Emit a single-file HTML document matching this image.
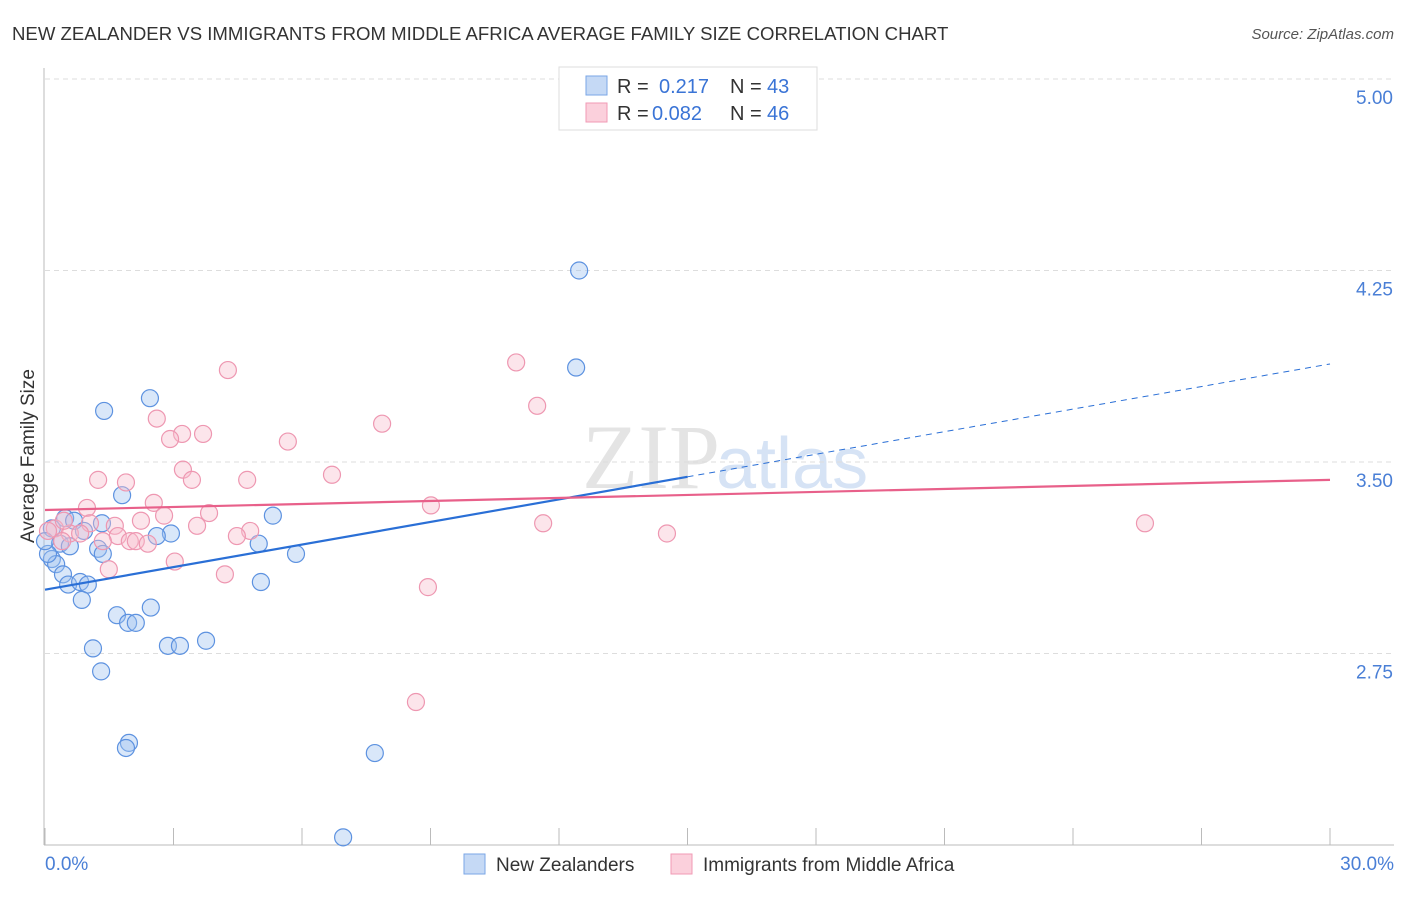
<!DOCTYPE html>
<html><head><meta charset="utf-8"><style>
body{margin:0;background:#fff;font-family:"Liberation Sans",sans-serif}
</style></head><body>
<svg id="c" width="1406" height="892" xmlns="http://www.w3.org/2000/svg">
<text x="12" y="40" font-size="18.6" fill="#333">NEW ZEALANDER VS IMMIGRANTS FROM MIDDLE AFRICA AVERAGE FAMILY SIZE CORRELATION CHART</text>
<text x="1394" y="39" font-size="15" fill="#555" font-style="italic" text-anchor="end">Source: ZipAtlas.com</text>
<text x="720" y="488" font-size="92" fill="#e4e4e4" text-anchor="end" font-family="Liberation Serif">ZIP</text>
<text x="716" y="488" font-size="72" fill="#d6e3f5">atlas</text>
<g id="grid"></g><g id="axes"></g><g id="pts"></g><g id="lines"></g>
<text x="34" y="456" font-size="19" fill="#333" text-anchor="middle" transform="rotate(-90 34 456)">Average Family Size</text>
<text x="45" y="870" font-size="19" fill="#4a7fd6">0.0%</text>
<text x="1394" y="870" font-size="19" fill="#4a7fd6" text-anchor="end">30.0%</text>
<g>
<rect x="559" y="67" width="258" height="63" fill="#fff" stroke="#ddd"/>
<rect x="586" y="76" width="21" height="19" fill="#c5d9f5" stroke="#7aa6e6"/>
<rect x="586" y="103" width="21" height="19" fill="#fbd0dc" stroke="#f09ab5"/>
<text x="617" y="93" font-size="20" fill="#333">R = <tspan x="659" fill="#3a74d6">0.217</tspan><tspan x="730">N = </tspan><tspan x="767" fill="#3a74d6">43</tspan></text>
<text x="617" y="120" font-size="20" fill="#333">R = <tspan x="652" fill="#3a74d6">0.082</tspan><tspan x="730">N = </tspan><tspan x="767" fill="#3a74d6">46</tspan></text>
</g>
<g>
<rect x="464" y="854" width="21" height="20" fill="#c5d9f5" stroke="#7aa6e6"/>
<text x="496" y="871" font-size="19" fill="#333">New Zealanders</text>
<rect x="671" y="854" width="21" height="20" fill="#fbd0dc" stroke="#f09ab5"/>
<text x="703" y="871" font-size="19" fill="#333">Immigrants from Middle Africa</text>
</g>
</svg>
<script>
const yTicks=[5.00,4.25,3.50,2.75];
const yTickLabels=["5.00","4.25","3.50","2.75"];
const xTicks=[0,3,6,9,12,15,18,21,24,27,30];
const blueX=[12.47,12.40,2.45,1.38,1.80,0.47,0.68,1.33,5.32,0.16,0.91,2.94,2.61,4.99,0.35,0.58,1.24,1.35,5.86,0.16,0.26,0.42,0.54,0.82,1.00,5.04,0.86,2.47,1.68,1.94,2.12,1.12,2.87,3.15,3.76,1.31,1.96,1.89,7.70,6.96,0.07,0.0];
const blueY=[4.25,3.87,3.75,3.70,3.37,3.28,3.27,3.26,3.29,3.24,3.23,3.22,3.21,3.18,3.18,3.17,3.16,3.14,3.14,3.12,3.10,3.06,3.02,3.03,3.02,3.03,2.96,2.93,2.90,2.87,2.87,2.77,2.78,2.78,2.80,2.68,2.40,2.38,2.36,2.03,3.14,3.19];
const pinkX=[11.0,4.27,11.49,2.61,7.87,3.20,3.69,2.92,5.67,3.22,6.70,1.24,3.43,4.72,1.89,2.54,9.01,0.98,3.83,2.78,2.24,1.05,1.63,3.55,11.63,25.68,4.79,0.23,0.58,1.70,4.48,14.52,1.98,2.12,1.35,2.40,0.40,3.03,1.49,4.20,8.94,8.66,0.07,0.82,0.44];
const pinkY=[3.89,3.86,3.72,3.67,3.65,3.61,3.61,3.59,3.58,3.47,3.45,3.43,3.43,3.43,3.42,3.34,3.33,3.32,3.30,3.29,3.27,3.26,3.25,3.25,3.26,3.26,3.23,3.24,3.22,3.21,3.21,3.22,3.19,3.19,3.19,3.18,3.19,3.11,3.08,3.06,3.01,2.56,3.23,3.22,3.27];
const blueTrend=[3.0,3.884];
const pinkTrend=[3.312,3.43];
const blueSolidEnd=15;
const NS="http://www.w3.org/2000/svg";
const X=v=>45+v/30*1285, Y=v=>79+(5-v)/3*766;
function mk(tag,at,parent){const e=document.createElementNS(NS,tag);for(const k in at)e.setAttribute(k,at[k]);document.getElementById(parent).appendChild(e);return e;}
yTicks.forEach((t,i)=>{
 const g=mk('line',{x1:45,x2:1394,y1:Y(t),y2:Y(t),stroke:'#ddd','stroke-dasharray':'5,4'},'grid');
 
 
 const l=mk('text',{x:1393,y:Y(t)+25,'font-size':19,fill:'#4a7fd6','text-anchor':'end'},'grid');
 l.textContent=yTickLabels[i];
 
 
});
let a=mk('line',{x1:44,x2:44,y1:68,y2:845,stroke:'#bbb'},'axes');


a=mk('line',{x1:44,x2:1394,y1:845,y2:845,stroke:'#bbb'},'axes');


xTicks.forEach(t=>{const k=mk('line',{x1:X(t),x2:X(t),y1:828,y2:845,stroke:'#bbb'},'axes');
 
 });
blueX.forEach((v,i)=>{const c=mk('circle',{cx:X(v),cy:Y(blueY[i]),r:8.5,fill:'rgba(160,195,240,0.4)',stroke:'#5d92e0','stroke-width':1.2},'pts');
 
 });
pinkX.forEach((v,i)=>{const c=mk('circle',{cx:X(v),cy:Y(pinkY[i]),r:8.5,fill:'rgba(248,190,206,0.4)',stroke:'#ee97b1','stroke-width':1.2},'pts');
 
 });
const by=x=>blueTrend[0]+(blueTrend[1]-blueTrend[0])*x/30;
let t=mk('line',{x1:X(0),y1:Y(by(0)),x2:X(blueSolidEnd),y2:Y(by(blueSolidEnd)),stroke:'#2a6fd6','stroke-width':2.2},'lines');


t=mk('line',{x1:X(blueSolidEnd),y1:Y(by(blueSolidEnd)),x2:X(30),y2:Y(by(30)),stroke:'#2a6fd6','stroke-width':1,'stroke-dasharray':'6,5'},'lines');


t=mk('line',{x1:X(0),y1:Y(pinkTrend[0]),x2:X(30),y2:Y(pinkTrend[1]),stroke:'#e8608a','stroke-width':2.2},'lines');


</script>
</body></html>
